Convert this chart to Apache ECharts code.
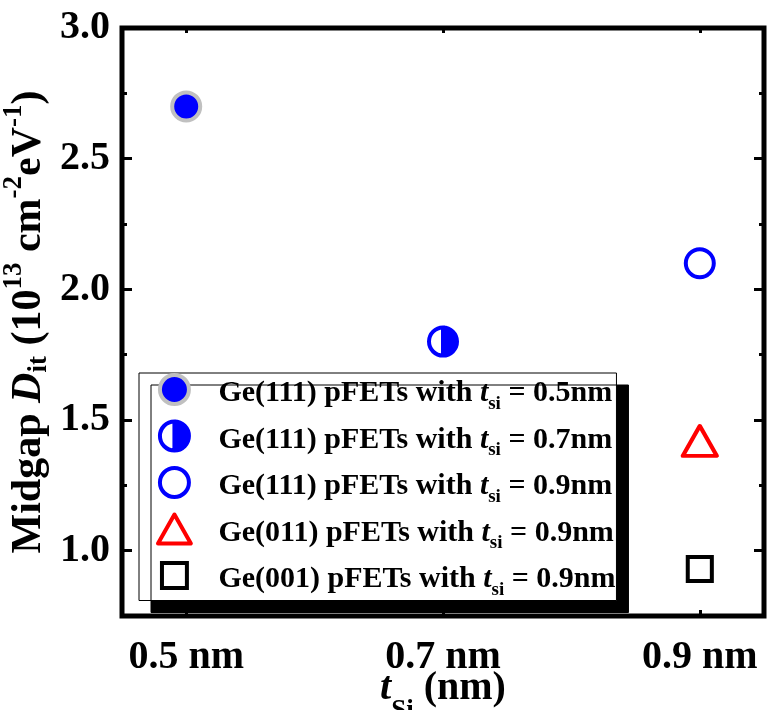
<!DOCTYPE html>
<html>
<head>
<meta charset="utf-8">
<script src="https://cdn.jsdelivr.net/npm/echarts@6/dist/echarts.min.js"></script>
<style>
  html, body { margin: 0; padding: 0; background: #fff; }
  #chart { width: 769px; height: 710px; }
</style>
</head>
<body>
<div id="chart"></div>
<script>
// Midgap interface-trap density of Ge pFETs versus Si passivation thickness
const orientations = ['Ge(111)', 'Ge(111)', 'Ge(111)', 'Ge(011)', 'Ge(001)'];
const thicknesses = [0.5, 0.7, 0.9, 0.9, 0.9];          // t_Si (nm)
const midgapDit = [2.70, 1.80, 2.10, 1.42, 0.93];       // 10^13 cm^-2 eV^-1
const xTickValues = [0.5, 0.7, 0.9];
const yLabelValues = [1.0, 1.5, 2.0, 2.5, 3.0];

const FONT = 'Liberation Serif';

// circle whose left half cancels out (opposite winding), leaving the right half filled
const halfCircle = 'path://M50,0 A50,50 0 1,1 50,100 A50,50 0 1,1 50,0 Z M50,0 A50,50 0 0,0 50,100 Z';
// triangle with a 34:30 aspect so the legend keeps its proportions
const triangle = 'path://M17,0 L34,30 L0,30 Z';
// square with empty margins so it draws a bit smaller than the circles
const square = 'path://M0,0 M100,100 M7,7 L93,7 L93,93 L7,93 Z';

const markerStyles = [
  { symbol: 'circle', symbolSize: 28, itemStyle: { color: '#0000ff', borderColor: '#c0c0c0', borderWidth: 4, opacity: 1 } },
  { symbol: halfCircle, symbolSize: 28, itemStyle: { color: '#0000ff', borderColor: '#0000ff', borderWidth: 4, opacity: 1 } },
  { symbol: 'circle', symbolSize: 28, itemStyle: { color: '#ffffff', borderColor: '#0000ff', borderWidth: 4, opacity: 1 } },
  { symbol: triangle, symbolSize: [34, 30], itemStyle: { color: '#ffffff', borderColor: '#ff0000', borderWidth: 4, borderJoin: 'round', opacity: 1 } },
  { symbol: square, symbolSize: 28, itemStyle: { color: '#ffffff', borderColor: '#000000', borderWidth: 4, opacity: 1 } }
];

const seriesNames = orientations.map((o, i) => o + ' pFETs with t_si = ' + thicknesses[i].toFixed(1) + 'nm');

const series = seriesNames.map((name, i) => Object.assign({
  name: name,
  type: 'scatter',
  xAxisIndex: 0,
  yAxisIndex: 0,
  data: [[thicknesses[i], midgapDit[i]]],
  z: 5
}, markerStyles[i]));

const base = { fontFamily: FONT, fontWeight: 'bold', color: '#000', verticalAlign: 'top' };

const yMinor = (pos) => ({
  type: 'value', position: pos, min: 0.75, max: 3.0, interval: 0.25,
  axisLine: { show: false }, splitLine: { show: false },
  axisTick: { show: true, inside: true, length: 5, lineStyle: { color: '#000', width: 3 } },
  axisLabel: { show: false }
});
const yMajor = (pos, labels) => ({
  type: 'value', position: pos, min: 0.75, max: 3.0, interval: 0.25,
  axisLine: { show: false }, splitLine: { show: false },
  axisTick: { show: true, inside: true, length: 10, customValues: yLabelValues, lineStyle: { color: '#000', width: 3 } },
  axisLabel: labels ? {
    show: true, customValues: yLabelValues, margin: 12,
    formatter: (v) => v.toFixed(1),
    fontFamily: FONT, fontWeight: 'bold', fontSize: 40, color: '#000'
  } : { show: false }
});

const chart = echarts.init(document.getElementById('chart'), null, { renderer: 'canvas' });
chart.setOption({
  animation: false,
  backgroundColor: '#fff',
  grid: {
    left: 122, right: 5, top: 28, bottom: 94,
    containLabel: false,
    outerBoundsMode: 'none',
    show: true, borderColor: '#000', borderWidth: 5, backgroundColor: 'transparent'
  },
  xAxis: [
    {
      type: 'value', position: 'bottom', min: 0.45, max: 0.95,
      axisLine: { show: false }, splitLine: { show: false },
      axisTick: { show: true, inside: true, length: 6, customValues: xTickValues, lineStyle: { color: '#000', width: 3 } },
      axisLabel: {
        show: true, customValues: xTickValues, margin: 22,
        formatter: (v) => v.toFixed(1) + ' nm',
        fontFamily: FONT, fontWeight: 'bold', fontSize: 40, color: '#000'
      },
      name: '{i|t}{s|Si}{n| (nm)}',
      nameLocation: 'middle',
      nameGap: 53,
      nameMoveOverlap: false,
      nameTextStyle: {
        rich: {
          i: Object.assign({}, base, { fontStyle: 'italic', fontSize: 40, lineHeight: 40 }),
          s: Object.assign({}, base, { fontSize: 27, lineHeight: 30, padding: [29, 0, 0, 0] }),
          n: Object.assign({}, base, { fontSize: 40, lineHeight: 40 })
        }
      }
    },
    {
      type: 'value', position: 'bottom', min: 0.45, max: 0.95,
      axisLine: { show: false }, splitLine: { show: false },
      axisTick: { show: true, inside: true, length: 11, customValues: [0.7], lineStyle: { color: '#000', width: 3 } },
      axisLabel: { show: false }
    },
    {
      type: 'value', position: 'top', min: 0.45, max: 0.95,
      axisLine: { show: false }, splitLine: { show: false },
      axisTick: { show: true, inside: true, length: 5, customValues: xTickValues, lineStyle: { color: '#000', width: 3 } },
      axisLabel: { show: false }
    }
  ],
  yAxis: [
    Object.assign(yMajor('left', true), {
      name: '{n|Midgap }{i|D}{s|it}{n| (10}{p|13}{n| cm}{p|-2}{n|eV}{p|-1}{n|)}',
      nameLocation: 'middle',
      nameRotate: 90,
      nameGap: 75,
      nameMoveOverlap: false,
      nameTextStyle: {
        rich: {
          n: Object.assign({}, base, { fontSize: 42, lineHeight: 46, padding: [7, 0, 0, 0] }),
          i: Object.assign({}, base, { fontStyle: 'italic', fontSize: 42, lineHeight: 46, padding: [7, 0, 0, 0] }),
          s: Object.assign({}, base, { fontSize: 27, lineHeight: 30, padding: [25, 0, 0, 0] }),
          p: Object.assign({}, base, { fontSize: 27, lineHeight: 30 })
        }
      }
    }),
    yMinor('left'),
    yMajor('right', false),
    yMinor('right')
  ],
  legend: {
    orient: 'vertical',
    left: 139,
    top: 373,
    padding: [0, 1, 1, 17],
    itemWidth: 34,
    itemHeight: 29,
    itemGap: 6,
    symbolKeepAspect: true,
    itemStyle: { borderWidth: 4 },
    backgroundColor: '#fff',
    borderColor: '#000',
    borderWidth: 1,
    shadowColor: '#000',
    shadowBlur: 0,
    shadowOffsetX: 12,
    shadowOffsetY: 12,
    data: seriesNames,
    formatter: (name) => {
      const i = seriesNames.indexOf(name);
      return '{n|' + orientations[i] + ' pFETs with }{i|t}{s|si}{n| = ' + thicknesses[i].toFixed(1) + 'nm}';
    },
    textStyle: {
      padding: [0, 0, 0, 22],
      rich: {
        n: Object.assign({}, base, { fontSize: 30, lineHeight: 30, padding: [4, 0, 0, 0] }),
        i: Object.assign({}, base, { fontStyle: 'italic', fontSize: 30, lineHeight: 30, padding: [4, 0, 0, 0] }),
        s: Object.assign({}, base, { fontSize: 19, lineHeight: 20, padding: [20, 0, 0, 0] })
      }
    }
  },
  series: series
});
</script>
</body>
</html>
